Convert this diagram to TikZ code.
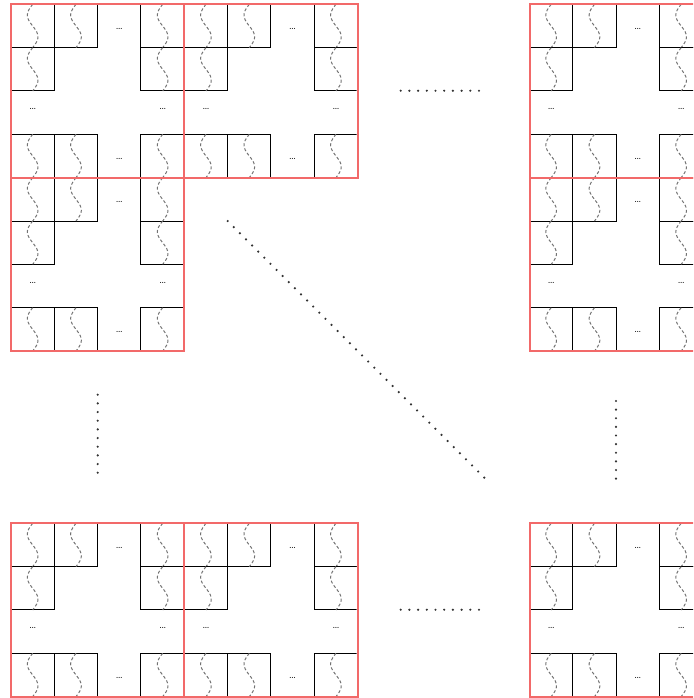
\documentclass[tikz,border=0pt]{standalone}
\begin{document}
\tikzset{
  cellbox/.style={draw=black, line width=0.5pt},
  blockbox/.style={draw={rgb,255:red,242;green,105;blue,105}, line width=1pt},
  wave/.style={draw=black!55, line width=0.5pt, dash pattern=on 1.5pt off 1.1pt},
  ell/.style={inner sep=0pt, font=\fontsize{4.5pt}{5pt}\selectfont, anchor=base},
  dotmark/.style={fill=black!80, draw=none},
}
\newcommand\myblockcells[3]{%
  \begin{scope}[shift={(#1,#2)}]
    \node[ell] (#3-top) at (108.3,24.9) {\dots};
    \node[ell] (#3-left) at (21.7,105.5) {\dots};
    \node[ell] (#3-right) at (151.7,105.5) {\dots};
    \node[ell] (#3-bot) at (108.3,154.9) {\dots};
    \begin{scope}
      \clip (0.9,0.9) rectangle (172.4,172.4);
      \foreach \cx/\cy in {0/0,1/0,3/0,0/1,3/1,0/3,1/3,3/3}{
        \draw[cellbox] ({\cx*43.33},{\cy*43.33}) rectangle ++(43.33,43.33);
        \draw[wave] plot[variable=\t, domain=0:1, samples=31, smooth]
          ({\cx*43.33+21.67-5.3*sin(360*\t)},{\cy*43.33+43.33*\t});
      }
    \end{scope}
  \end{scope}}
\begin{tikzpicture}[x=0.5pt,y=-0.5pt]
  \useasboundingbox (0,0) rectangle (693,698);
  \clip (0,0) rectangle (693,698);
  % cells of every block
  \myblockcells{11}{4.3}{b00}
  \myblockcells{184.3}{4.3}{b10}
  \myblockcells{11}{177.7}{b01}
  \myblockcells{529.5}{4.3}{b30}
  \myblockcells{529.5}{177.7}{b31}
  \myblockcells{11}{523.3}{b03}
  \myblockcells{184.3}{523.3}{b13}
  \myblockcells{529.5}{523.3}{b33}
  % red block outlines on top
  \foreach \bx/\by in {11/4.3,184.3/4.3,11/177.7,529.5/4.3,529.5/177.7,11/523.3,184.3/523.3,529.5/523.3}{
    \draw[blockbox] (\bx,\by) rectangle ++(173.3,173.3);
  }
  % dotted continuation marks
  \foreach \i in {0,...,9}{
    \fill[dotmark] ({400.7+\i*8.7},90.7) circle (0.6pt);
    \fill[dotmark] ({400.7+\i*8.7},609.7) circle (0.6pt);
    \fill[dotmark] (97.7,{394.7+\i*8.67}) circle (0.6pt);
    \fill[dotmark] (616,{401+\i*8.63}) circle (0.6pt);
  }
  \foreach \i in {0,...,42}{
    \fill[dotmark] ({227.7+\i*6.11},{221+\i*6.11}) circle (0.6pt);
  }
\end{tikzpicture}
\end{document}
